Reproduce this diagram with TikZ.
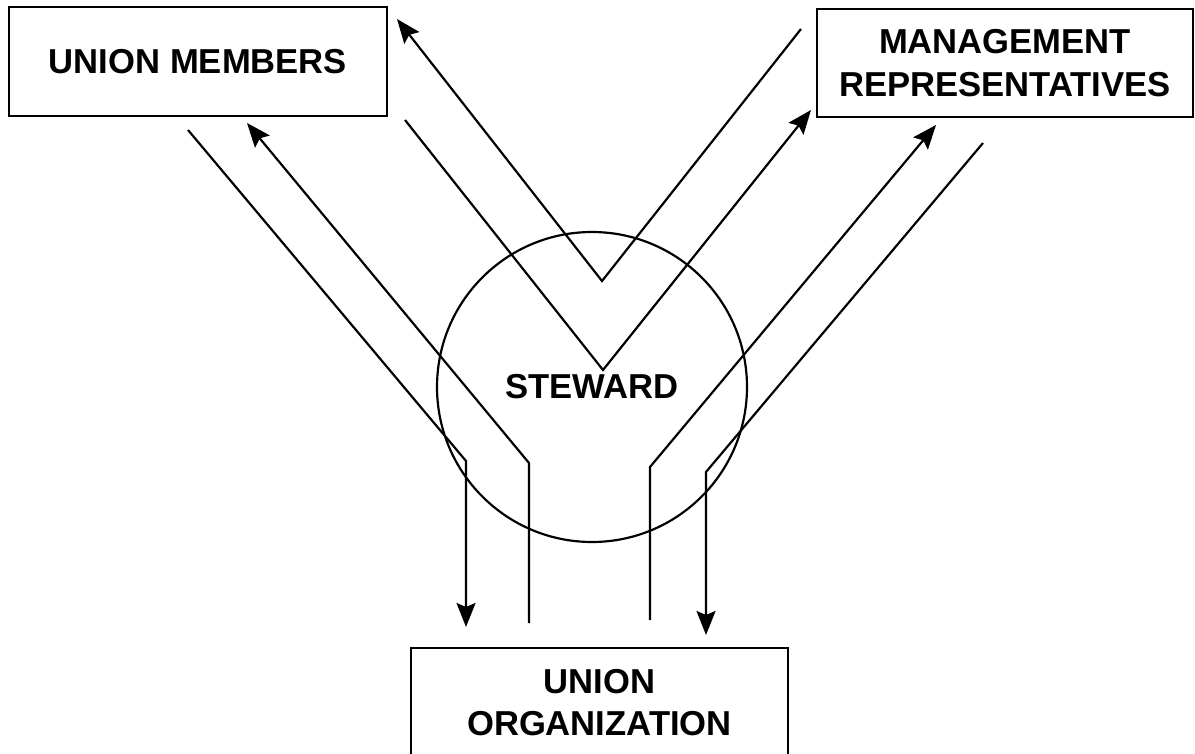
\documentclass[tikz,border=0pt]{standalone}
\usepackage{fontspec}
\setmainfont{Liberation Sans}
\usetikzlibrary{
    arrows.meta,
    positioning
}
\tikzset{
    party/.style={draw, rectangle, line width=0.8pt, align=center},
    flow/.style={line width=0.62pt},
    flowtip/.style={-{Stealth[length=2.4mm,width=1.9mm,inset=0.4mm]}}
}

\begin{document}
\begin{tikzpicture}[font=\fontsize{9.85}{12}\selectfont\bfseries]
    \useasboundingbox (0, 0) rectangle (11.95, 7.53);

    \node[party, minimum width=3.78cm, minimum height=1.09cm] (members) at (1.98, 6.915) {UNION MEMBERS};
    \node[party, minimum width=3.76cm, minimum height=1.08cm] (management) at (10.05, 6.90) {MANAGEMENT\\REPRESENTATIVES};
    \node[party, minimum width=3.77cm, minimum height=1.09cm] (organization) at (5.995, 0.505) {UNION\\ORGANIZATION};
    \node[draw, circle, flow, minimum size=3.1cm, inner sep=0pt] (steward) at (5.92, 3.66) {STEWARD};

    % members side
    \coordinate (a1) at (1.88, 6.23);
    \coordinate (a2) at (4.66, 2.92);
    \coordinate (a3) at (4.66, 1.26);
    \coordinate (b1) at (5.29, 1.30);
    \coordinate (b2) at (5.29, 2.90);
    \coordinate (b3) at (2.47, 6.30);

    % the two V's
    \coordinate (c1) at (4.05, 6.33);
    \coordinate (c2) at (6.03, 3.83);
    \coordinate (c3) at (8.11, 6.43);
    \coordinate (d1) at (8.01, 7.24);
    \coordinate (d2) at (6.02, 4.72);
    \coordinate (d3) at (3.97, 7.34);

    % management side
    \coordinate (e1) at (6.50, 1.33);
    \coordinate (e2) at (6.50, 2.86);
    \coordinate (e3) at (9.36, 6.28);
    \coordinate (f1) at (9.83, 6.10);
    \coordinate (f2) at (7.06, 2.81);
    \coordinate (f3) at (7.06, 1.18);

    \draw[flow, flowtip] (a1) -- (a2) -- (a3);
    \draw[flow, flowtip] (b1) -- (b2) -- (b3);
    \draw[flow, flowtip] (c1) -- (c2) -- (c3);
    \draw[flow, flowtip] (d1) -- (d2) -- (d3);
    \draw[flow, flowtip] (e1) -- (e2) -- (e3);
    \draw[flow, flowtip] (f1) -- (f2) -- (f3);
\end{tikzpicture}
\end{document}
